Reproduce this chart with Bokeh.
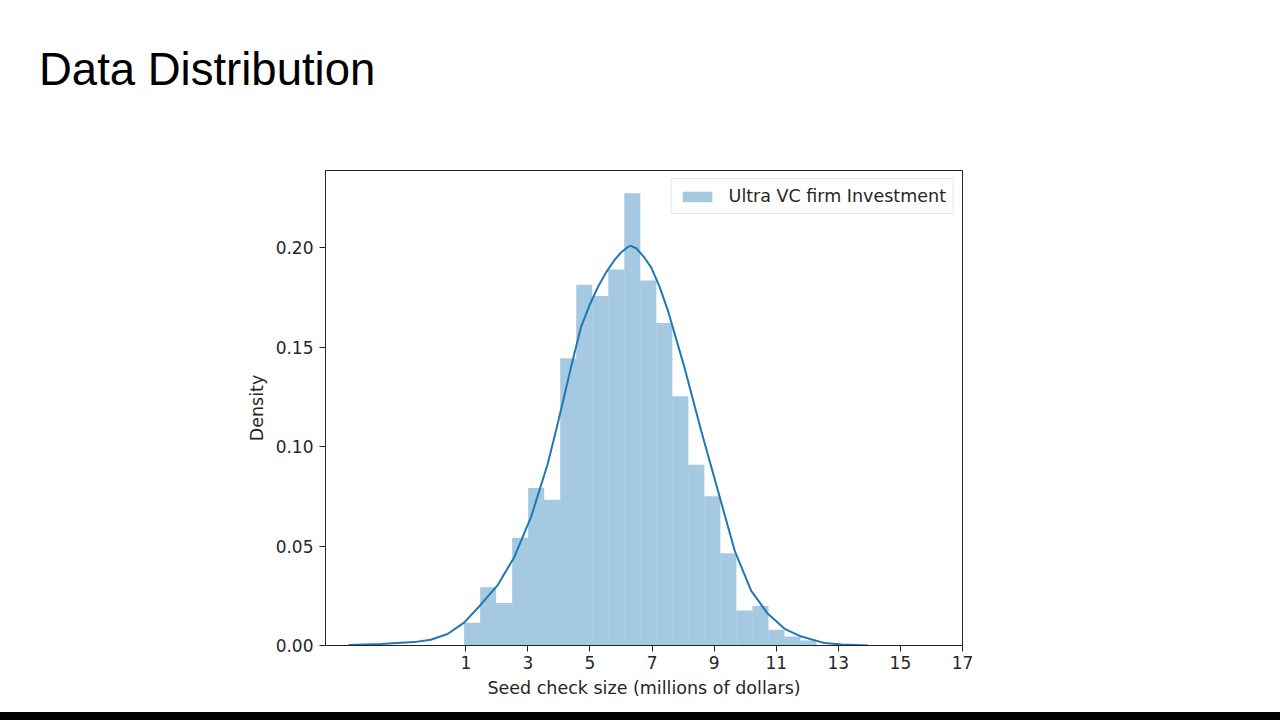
from bokeh.plotting import figure
from bokeh.models import Range1d, FixedTicker, Legend, LegendItem, Div, NumeralTickFormatter
from bokeh.layouts import column
from bokeh.embed import file_html
from bokeh.resources import INLINE

# ---- data ----
bin_start = 0.945
bin_width = 0.516
bar_density = [0.0114, 0.0293, 0.0214, 0.0541, 0.0791, 0.0732, 0.1444, 0.1813,
               0.1756, 0.1889, 0.2273, 0.1834, 0.1621, 0.1253, 0.0908, 0.0750,
               0.0464, 0.0176, 0.0198, 0.0079, 0.0045, 0.0025]

kde_x = [-2.77, -1.74, -0.67, -0.13, 0.41, 0.945, 1.48, 2.02, 2.56, 3.10, 3.64,
         3.96, 4.39, 4.71, 5.00, 5.25, 5.52, 5.78, 6.00, 6.22, 6.32, 6.50, 6.75,
         6.97, 7.25, 7.51, 8.04, 8.58, 9.12, 9.66, 10.19, 10.73, 11.27, 11.81,
         12.56, 13.10, 13.96]
kde_y = [0.0003, 0.0008, 0.0017, 0.0029, 0.0058, 0.0115, 0.0205, 0.0302, 0.0444,
         0.0645, 0.0913, 0.1114, 0.1399, 0.1600, 0.1715, 0.1800, 0.1875, 0.1935,
         0.1975, 0.2003, 0.2008, 0.1995, 0.1950, 0.1900, 0.1800, 0.1683, 0.1399,
         0.1080, 0.0779, 0.0477, 0.0276, 0.0159, 0.0084, 0.0045, 0.0012, 0.0005,
         0.0000]

x_ticks = [1, 3, 5, 7, 9, 11, 13, 15, 17]
y_ticks = [0.00, 0.05, 0.10, 0.15, 0.20]

title_text = "Data Distribution"
x_label = "Seed check size (millions of dollars)"
y_label = "Density"
legend_label = "Ultra VC firm Investment"

lefts = [bin_start + i * bin_width for i in range(len(bar_density))]
rights = [l + bin_width for l in lefts]

p = figure(width=1280, height=602, output_backend="svg", toolbar_location=None,
           x_range=Range1d(-3.52, 17.0), y_range=Range1d(0.0, 0.2387),
           min_border_left=325, min_border_right=318, min_border_top=60,
           min_border_bottom=67, margin=0)
p.background_fill_color = "white"
p.border_fill_color = "white"
p.grid.visible = False
p.outline_line_color = "#222222"
p.outline_line_width = 1

bars = p.quad(left=lefts, right=rights, bottom=0, top=bar_density,
              fill_color="#1f77b4", fill_alpha=0.4, line_color=None)
p.line(kde_x, kde_y, line_color="#1f77b4", line_width=2)

tick_font = "DejaVu Sans"
for ax in (p.xaxis[0], p.yaxis[0]):
    ax.axis_line_color = "#222222"
    ax.major_tick_line_color = "#222222"
    ax.major_tick_out = 6
    ax.major_tick_in = 0
    ax.minor_tick_line_color = None
    ax.major_label_text_font = tick_font
    ax.major_label_text_font_size = "17px"
    ax.major_label_text_color = "#262626"
    ax.axis_label_text_font = tick_font
    ax.axis_label_text_font_size = "17.5px"
    ax.axis_label_text_font_style = "normal"
    ax.axis_label_text_color = "#262626"

p.xaxis.ticker = FixedTicker(ticks=x_ticks)
p.yaxis.ticker = FixedTicker(ticks=y_ticks)
p.yaxis.formatter = NumeralTickFormatter(format="0.00")
p.xaxis.axis_label = x_label
p.yaxis.axis_label = y_label
p.xaxis.major_label_standoff = 4
p.yaxis.major_label_standoff = 6
p.xaxis.axis_label_standoff = 6
p.yaxis.axis_label_standoff = 6

legend = Legend(items=[LegendItem(label=legend_label, renderers=[bars])],
                location="top_right", margin=8, padding=7, spacing=0,
                label_standoff=13, glyph_width=37, glyph_height=13,
                label_height=18, label_text_font=tick_font,
                label_text_font_size="17.5px", label_text_color="#262626",
                border_line_color="#cccccc", border_line_width=1,
                background_fill_color="white", background_fill_alpha=0.8)
p.add_layout(legend)

title_div = Div(
    text=('<div style="position:absolute; left:39px; top:44px; '
          'font-family:\'Liberation Sans\'; font-size:45.5px; line-height:1.149; '
          'color:black; white-space:nowrap;">' + title_text + '</div>'),
    width=1280, height=110, margin=0)

strip = Div(text="", width=1280, height=8, margin=0,
            styles={"background-color": "black"})
layout = column(title_div, p, strip, spacing=0)

open("out.html", "w").write(file_html(layout, INLINE))
